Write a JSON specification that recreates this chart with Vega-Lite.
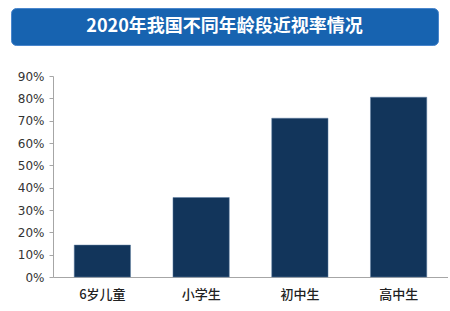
{
  "$schema": "https://vega.github.io/schema/vega-lite/v6.json",
  "background": "white",
  "padding": {"left": 10, "top": 7, "right": 0, "bottom": 0},
  "autosize": {"type": "pad"},
  "spacing": 24,
  "bounds": "full",
  "vconcat": [
    {
      "width": 427,
      "height": 37,
      "view": {"fill": "#1763b0", "stroke": "#4a86cc", "cornerRadius": 5},
      "data": {"values": [{"title": "2020年我国不同年龄段近视率情况"}]},
      "mark": {"type": "text", "color": "white", "font": "Noto Sans CJK SC", "fontSize": 18, "fontWeight": "bold", "align": "center", "baseline": "middle"},
      "encoding": {"text": {"field": "title"}}
    },
    {
      "width": 437,
      "height": 201,
      "view": {"stroke": null},
      "data": {"values": [
        {"group": "6岁儿童", "rate": 0.143},
        {"group": "小学生", "rate": 0.356},
        {"group": "初中生", "rate": 0.711},
        {"group": "高中生", "rate": 0.805}
      ]},
      "mark": {"type": "bar", "color": "#12355b", "stroke": "#5f7fa3", "strokeWidth": 0.5},
      "encoding": {
        "x": {"field": "group", "type": "nominal", "sort": null,
          "scale": {"range": [42, 437], "paddingInner": 0.43, "paddingOuter": 0.215},
          "axis": {"title": null, "labelAngle": 0, "ticks": false, "domainColor": "#a6a6a6", "labelFont": "Noto Sans CJK SC", "labelFontSize": 13, "labelColor": "#222222", "labelPadding": 11, "labelFontWeight": 500}},
        "y": {"field": "rate", "type": "quantitative",
          "scale": {"domain": [0, 0.9], "nice": false},
          "axis": {"title": null, "offset": -42, "minExtent": 0, "format": ".0%", "values": [0, 0.1, 0.2, 0.3, 0.4, 0.5, 0.6, 0.7, 0.8, 0.9], "grid": false, "domainColor": "#a6a6a6", "tickColor": "#a6a6a6", "tickSize": 4, "labelPadding": 5, "labelFont": "DejaVu Sans", "labelFontSize": 12, "labelColor": "#333333"}}
      }
    }
  ]
}
